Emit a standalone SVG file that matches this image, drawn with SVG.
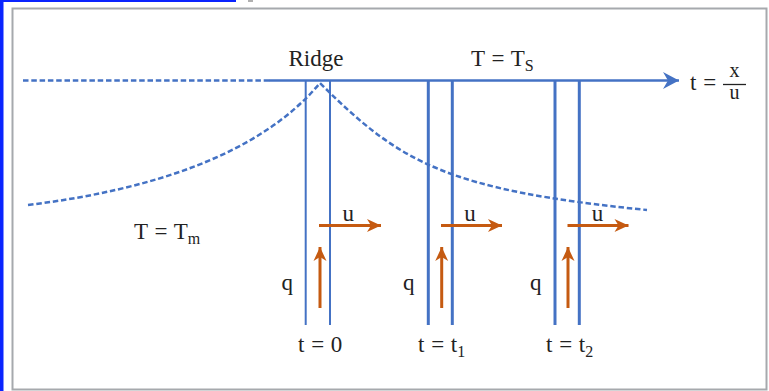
<svg xmlns="http://www.w3.org/2000/svg" width="769" height="391" viewBox="0 0 769 391">
<defs>
<style>
.txt{font-family:"Liberation Serif","Times New Roman",serif;font-size:23px;fill:#222;word-spacing:1px}
.sub{font-size:16px}
.frac{font-size:20px}
.blue{stroke:#4472C4;fill:none}
.dash{stroke:#4472C4;fill:none;stroke-width:2.5;stroke-dasharray:5.5 2.8}
.org{stroke:#C55A11;stroke-width:3;fill:none}
</style>
<marker id="ah-o" markerUnits="userSpaceOnUse" markerWidth="16" markerHeight="16" refX="14" refY="0" viewBox="-1 -8 16 16" orient="auto">
<path d="M0,-6.5 L14,0 L0,6.5 L4,0 Z" fill="#C55A11"/>
</marker>
<marker id="ah-b" markerUnits="userSpaceOnUse" markerWidth="20" markerHeight="20" refX="16" refY="0" viewBox="-1 -10 20 20" orient="auto">
<path d="M0,-8.5 L16,0 L0,8.5 L5,0 Z" fill="#4472C4"/>
</marker>
</defs>
<rect width="769" height="391" fill="#fff"/>
<g id="chrome">
<rect x="0" y="0" width="3.5" height="391" fill="#0a24ff"/>
<rect x="0" y="0" width="236" height="2" fill="#0a24ff"/>
<rect x="248" y="0" width="5" height="2" fill="#b0b0b0"/>
<rect x="12.5" y="8.5" width="754" height="381" fill="none" stroke="#a6a9ad" stroke-width="2"/>
</g>
<g id="surface">
<line x1="23" y1="80.5" x2="270" y2="80.5" class="dash"/>
</g>
<g id="temperature-curve">
<path class="dash" d="M28,205 C150,190 260,155 320,83 C400,163 447,190 647,210"/>
</g>
<g id="strip-0">
<line x1="305.7" y1="80" x2="305.7" y2="325" class="blue" stroke-width="2"/>
<line x1="330" y1="80" x2="330" y2="325" class="blue" stroke-width="2"/>
</g>
<g id="strip-1">
<line x1="428.3" y1="80" x2="428.3" y2="325" class="blue" stroke-width="3"/>
<line x1="452.3" y1="80" x2="452.3" y2="325" class="blue" stroke-width="3"/>
</g>
<g id="strip-2">
<line x1="555" y1="80" x2="555" y2="325" class="blue" stroke-width="3"/>
<line x1="579.3" y1="80" x2="579.3" y2="325" class="blue" stroke-width="3"/>
</g>
<g id="connectors">
<line x1="269" y1="80.5" x2="679" y2="80.5" class="blue" stroke-width="2.6" marker-end="url(#ah-b)"/>
<line x1="319" y1="225.5" x2="381" y2="225.5" class="org" marker-end="url(#ah-o)"/>
<line x1="441" y1="225.5" x2="502" y2="225.5" class="org" marker-end="url(#ah-o)"/>
<line x1="567.5" y1="225.5" x2="628.5" y2="225.5" class="org" marker-end="url(#ah-o)"/>
<line x1="320" y1="308" x2="320" y2="247" class="org" marker-end="url(#ah-o)"/>
<line x1="441.7" y1="308" x2="441.7" y2="247" class="org" marker-end="url(#ah-o)"/>
<line x1="568" y1="308" x2="568" y2="247" class="org" marker-end="url(#ah-o)"/>
</g>
<g id="labels">
<text class="txt" x="316" y="65.5" text-anchor="middle">Ridge</text>
<text class="txt" x="471" y="65.5">T = T<tspan class="sub" dy="5">S</tspan></text>
<text class="txt" x="134" y="239">T = T<tspan class="sub" dy="5">m</tspan></text>
<text class="txt" x="690" y="90">t =</text>
<text class="txt frac" x="734.5" y="76.5" text-anchor="middle">x</text>
<line x1="723" y1="84.5" x2="746" y2="84.5" stroke="#222" stroke-width="1.3"/>
<text class="txt frac" x="734.5" y="99" text-anchor="middle">u</text>
<text class="txt" x="342.5" y="221">u</text>
<text class="txt" x="464.3" y="221">u</text>
<text class="txt" x="591.7" y="221">u</text>
<text class="txt" x="281.5" y="290">q</text>
<text class="txt" x="403" y="290">q</text>
<text class="txt" x="530" y="290">q</text>
<text class="txt" x="298" y="352">t = 0</text>
<text class="txt" x="418" y="352">t = t<tspan class="sub" dy="5">1</tspan></text>
<text class="txt" x="546" y="352">t = t<tspan class="sub" dy="5">2</tspan></text>
</g>
</svg>
